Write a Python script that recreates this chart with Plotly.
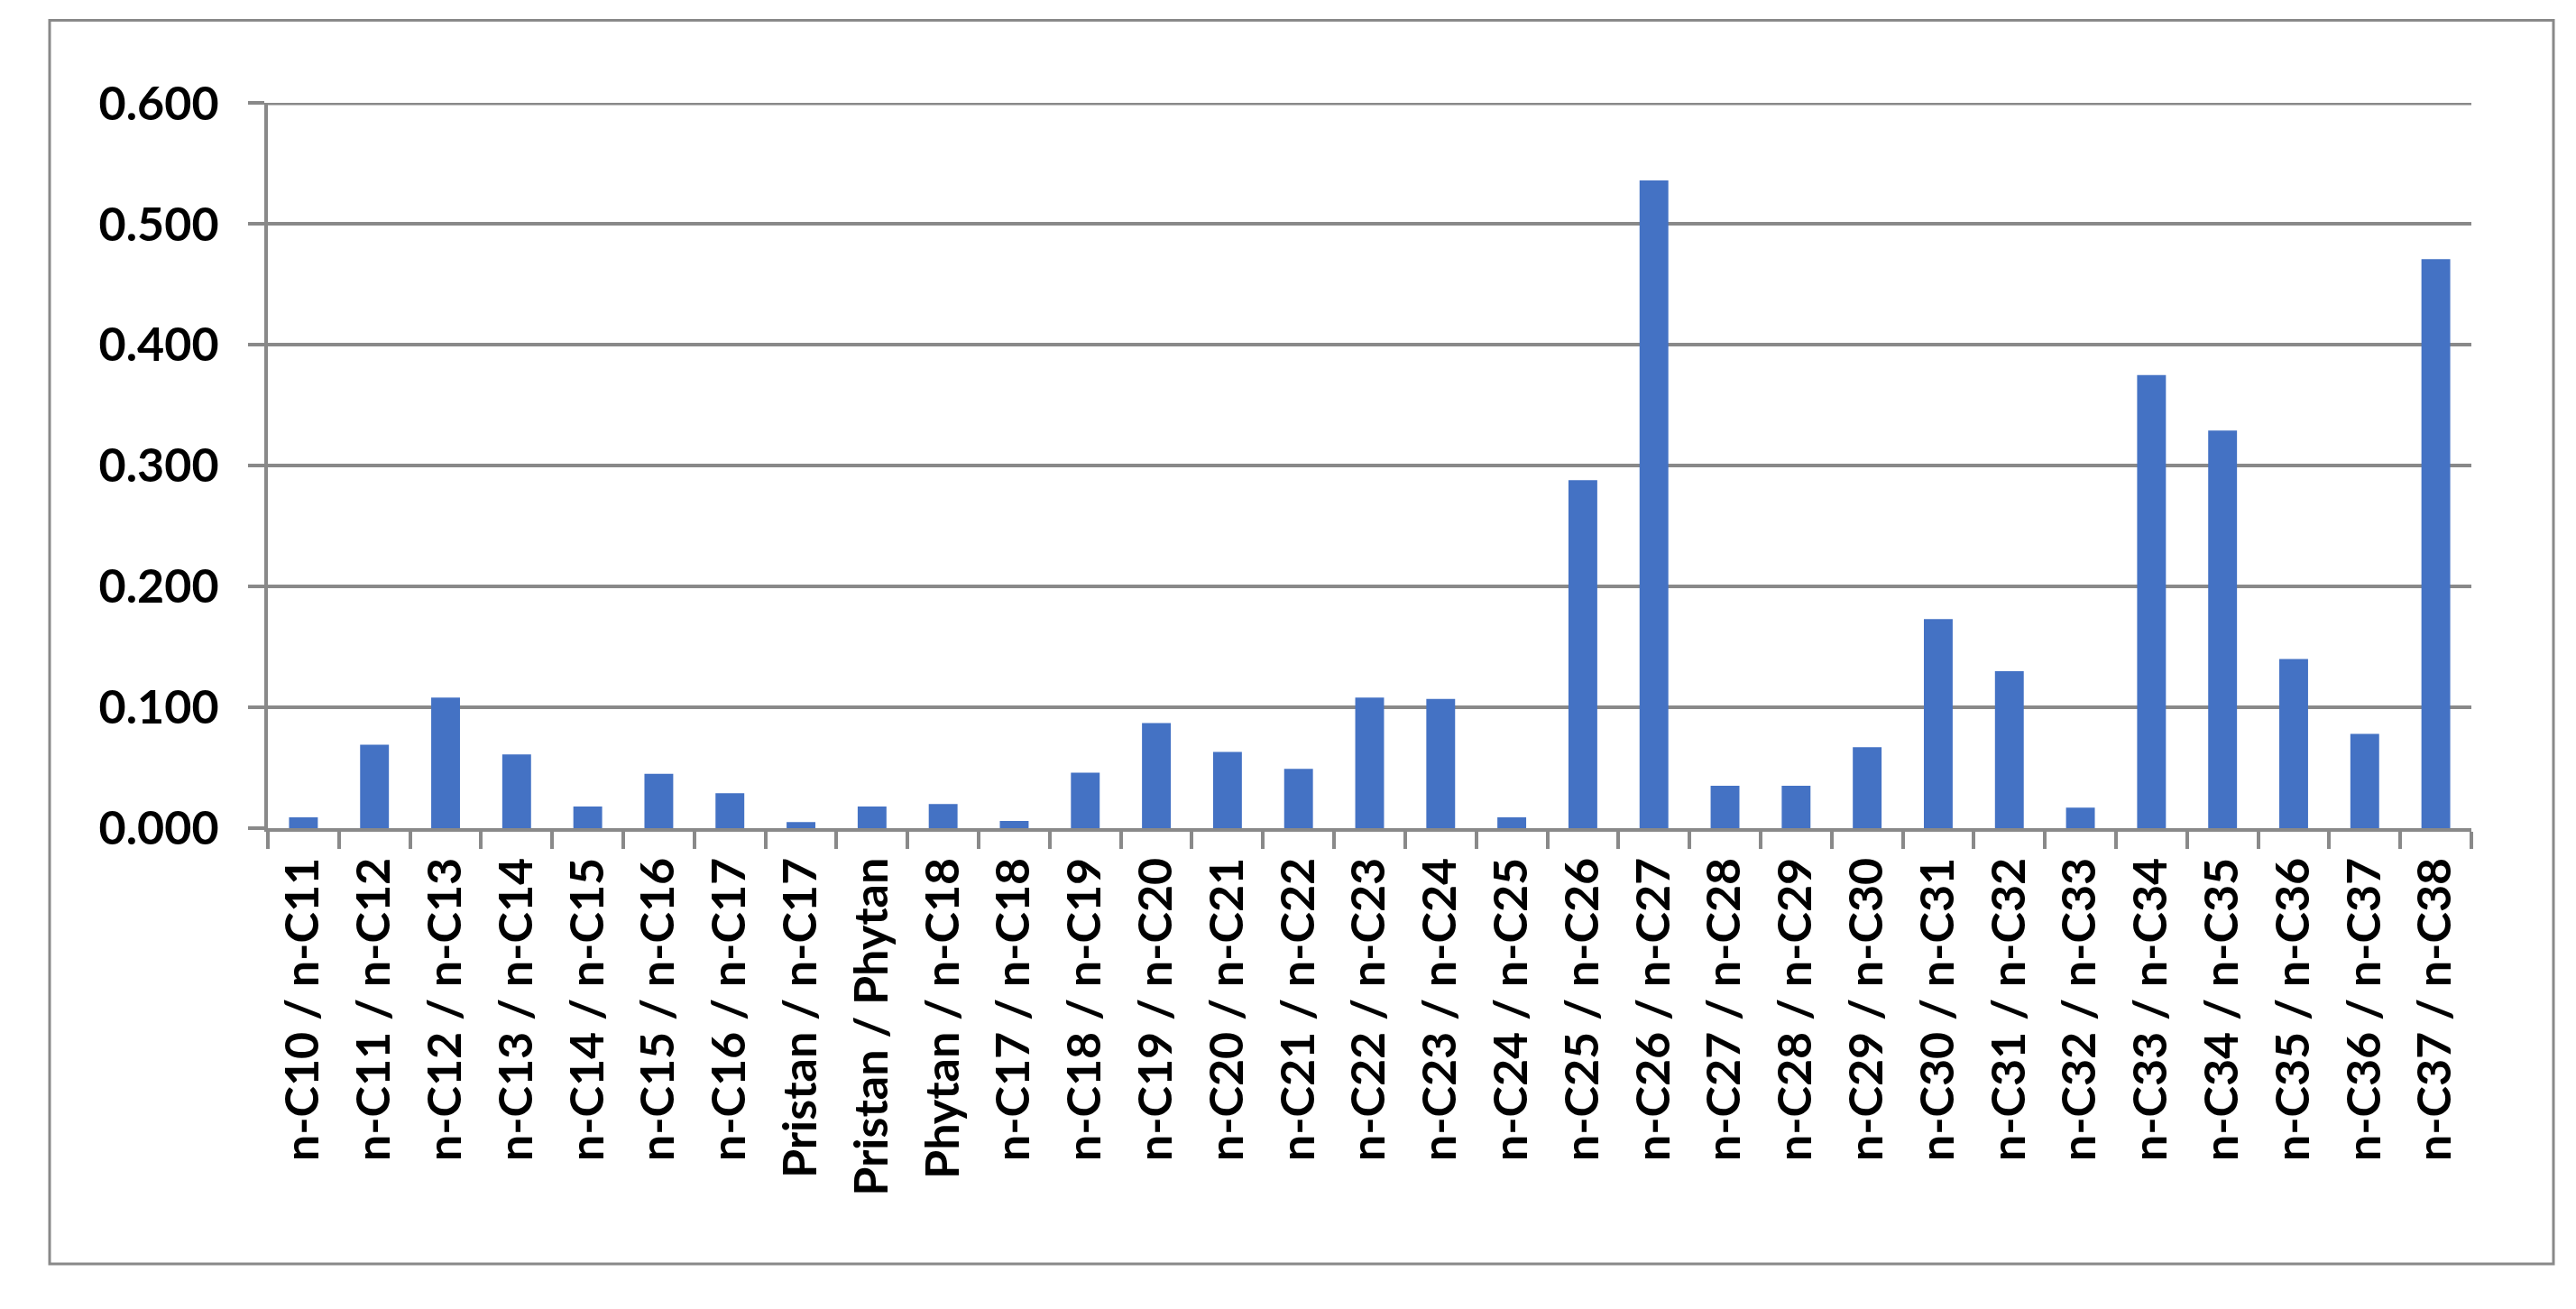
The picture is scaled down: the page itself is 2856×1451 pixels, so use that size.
import plotly.graph_objects as go

categories = [
    "n-C10 / n-C11", "n-C11 / n-C12", "n-C12 / n-C13", "n-C13 / n-C14",
    "n-C14 / n-C15", "n-C15 / n-C16", "n-C16 / n-C17", "Pristan / n-C17",
    "Pristan / Phytan", "Phytan / n-C18", "n-C17 / n-C18", "n-C18 / n-C19",
    "n-C19 / n-C20", "n-C20 / n-C21", "n-C21 / n-C22", "n-C22 / n-C23",
    "n-C23 / n-C24", "n-C24 / n-C25", "n-C25 / n-C26", "n-C26 / n-C27",
    "n-C27 / n-C28", "n-C28 / n-C29", "n-C29 / n-C30", "n-C30 / n-C31",
    "n-C31 / n-C32", "n-C32 / n-C33", "n-C33 / n-C34", "n-C34 / n-C35",
    "n-C35 / n-C36", "n-C36 / n-C37", "n-C37 / n-C38",
]
values = [
    0.009, 0.069, 0.108, 0.061, 0.018, 0.045, 0.029, 0.005, 0.018, 0.020,
    0.006, 0.046, 0.087, 0.063, 0.049, 0.108, 0.107, 0.009, 0.288, 0.536,
    0.035, 0.035, 0.067, 0.173, 0.130, 0.017, 0.375, 0.329, 0.140, 0.078,
    0.471,
]
y_ticks = [0.0, 0.1, 0.2, 0.3, 0.4, 0.5, 0.6]

# page body has an 8px margin; positions below are page coords minus that offset
OFF = 8
W, H = 2856 - 2 * OFF, 1451 - 2 * OFF
PLOT_L, PLOT_R, PLOT_T, PLOT_B = 297 - OFF, 2740 - OFF, 113.5 - OFF, 918.4 - OFF
L, R, T, B = PLOT_L, W - PLOT_R, PLOT_T, H - PLOT_B
GRAY = "#898989"
FONT = dict(family="Lato, 'Open Sans', sans-serif", size=52, color="#000000", weight="bold")

fig = go.Figure(go.Bar(x=categories, y=values, marker=dict(color="#4472C4", line=dict(width=0))))

pw, ph = W - L - R, H - T - B
def px_to_paper_x(px):
    return (px - OFF - L) / pw
def px_to_paper_y(py):
    return (H - B - (py - OFF)) / ph

fig.add_shape(type="rect", xref="paper", yref="paper",
              x0=px_to_paper_x(55), x1=px_to_paper_x(2831),
              y0=px_to_paper_y(1402), y1=px_to_paper_y(22),
              line=dict(color=GRAY, width=3), layer="below")
# top gridline (plotly drops the gridline lying on the plot edge)
fig.add_shape(type="line", xref="paper", yref="y",
              x0=0, x1=1, y0=max(y_ticks), y1=max(y_ticks),
              line=dict(color=GRAY, width=4), layer="below")

fig.update_layout(
    width=W, height=H,
    margin=dict(l=L, r=R, t=T, b=B, pad=0),
    paper_bgcolor="white", plot_bgcolor="white",
    bargap=0.595,
    showlegend=False,
    font=FONT,
)
fig.update_xaxes(
    type="category", tickangle=-90, tickfont=FONT,
    showgrid=False, showline=True, linecolor=GRAY, linewidth=4,
    ticks="outside", tickson="boundaries", ticklen=19, tickwidth=4, tickcolor=GRAY,
    ticklabelstandoff=8,
)
fig.update_yaxes(
    range=[0, 0.6003], tickvals=y_ticks, tickformat=".3f", tickfont=FONT,
    showgrid=True, gridcolor=GRAY, gridwidth=4,
    showline=True, linecolor=GRAY, linewidth=4, zeroline=False,
    ticks="outside", ticklen=18, tickwidth=4, tickcolor=GRAY,
    ticklabelstandoff=22,
)

fig.write_html("out.html")
